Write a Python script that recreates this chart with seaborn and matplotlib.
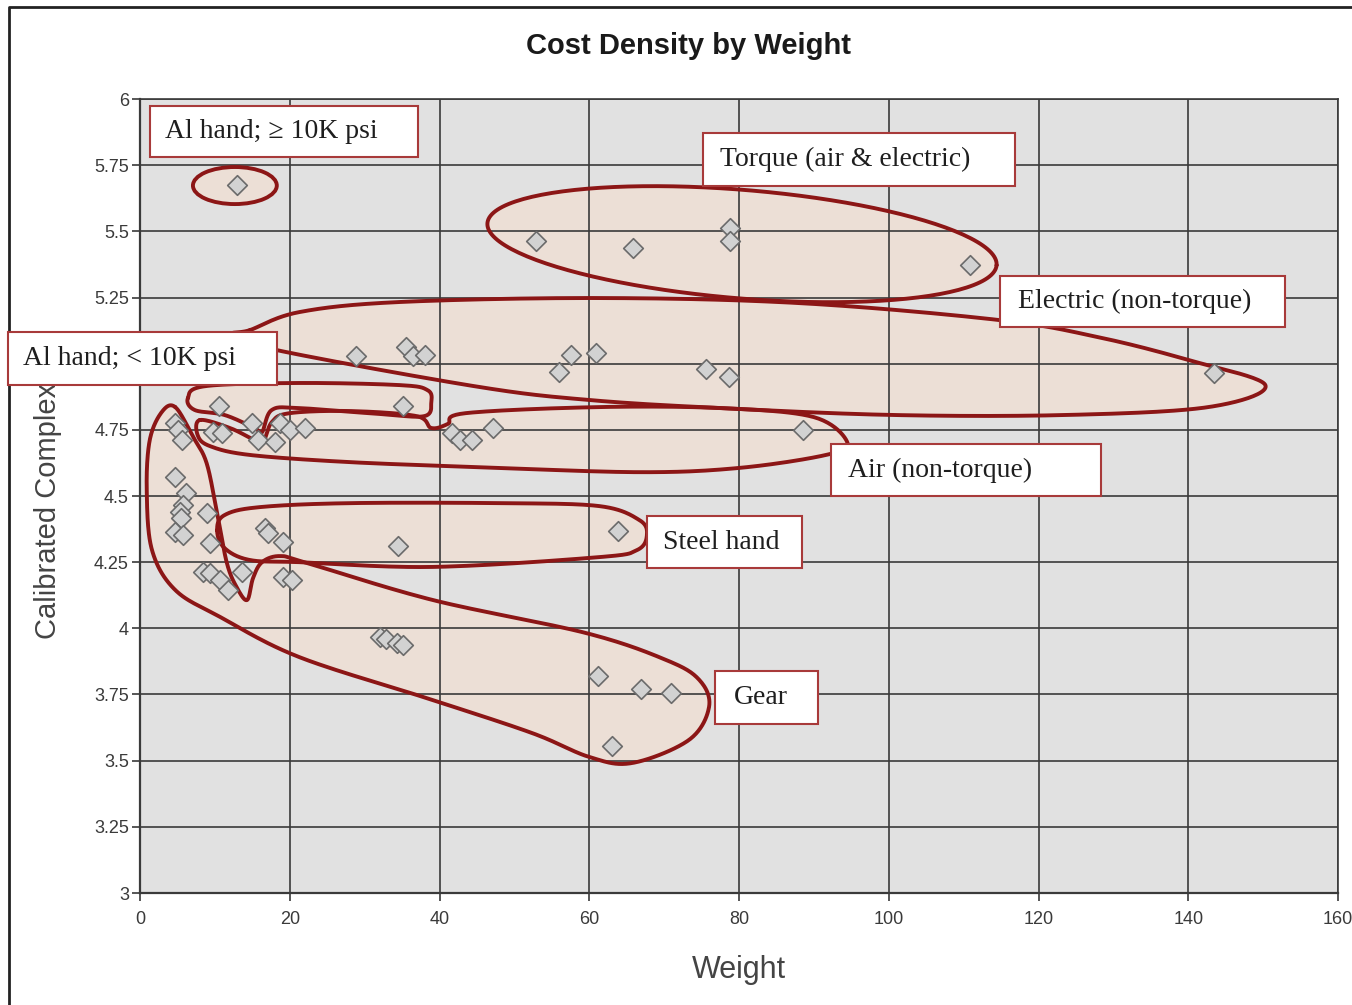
import numpy as np
import pandas as pd
import seaborn as sns
import matplotlib.pyplot as plt
from matplotlib.patches import Ellipse, Rectangle
from matplotlib.lines import Line2D

# weight vs calibrated complexity, grouped by the loop each tool sits in
al_hi_w = [12.9]
al_hi_c = [5.675]
torque_w = [52.9, 65.9, 78.8, 78.8, 110.8]
torque_c = [5.463, 5.437, 5.512, 5.463, 5.372]
electric_w = [28.9, 35.5, 36.5, 38.0, 56.0, 57.6, 60.9, 75.6, 78.7, 143.5]
electric_c = [5.029, 5.063, 5.029, 5.032, 4.968, 5.032, 5.040, 4.980, 4.950, 4.964]
al_lo_w = [10.5, 35.1]
al_lo_c = [4.840, 4.840]
air_w = [4.7, 5.1, 5.6, 9.8, 10.9, 14.9, 15.7, 18.0, 18.7, 20.0, 22.0,
         41.7, 42.7, 44.4, 47.2, 88.5]
air_c = [4.776, 4.749, 4.711, 4.742, 4.738, 4.776, 4.712, 4.704, 4.776, 4.749, 4.757,
         4.738, 4.711, 4.711, 4.757, 4.749]
steel_w = [16.7, 17.1, 19.1, 34.5, 63.9]
steel_c = [4.379, 4.360, 4.326, 4.311, 4.368]
gear_w = [4.7, 6.2, 5.8, 5.3, 5.5, 8.9, 4.7, 5.8, 9.3,
          8.4, 9.3, 10.7, 11.7, 13.6, 19.1, 20.3,
          32.0, 32.8, 34.3, 35.1, 61.2, 66.9, 70.9, 63.1]
gear_c = [4.572, 4.511, 4.466, 4.440, 4.417, 4.436, 4.364, 4.352, 4.322,
          4.213, 4.209, 4.183, 4.145, 4.213, 4.194, 4.183,
          3.967, 3.959, 3.944, 3.937, 3.820, 3.771, 3.756, 3.555]

x_ticks = [0, 20, 40, 60, 80, 100, 120, 140, 160]
y_ticks = [3, 3.25, 3.5, 3.75, 4, 4.25, 4.5, 4.75, 5, 5.25, 5.5, 5.75, 6]
y_tick_labels = ["3", "3.25", "3.5", "3.75", "4", "4.25", "4.5", "4.75",
                 "5", "5.25", "5.5", "5.75", "6"]

# hand-drawn loops around the groups (weight, complexity outline points)
torque_tips = [(46.4, 5.531), (114.4, 5.372)]
torque_halfwidth = 0.205
electric_loop = [(14.7, 5.127), (21.3, 5.195), (34.7, 5.233), (61.3, 5.248), (88, 5.229),
                 (114.7, 5.165), (128, 5.100), (140, 5.014), (150.3, 4.919),
                 (142.7, 4.836), (123.6, 4.806), (100.7, 4.806), (77.7, 4.832),
                 (60.3, 4.862), (45.3, 4.912), (18.3, 5.051), (12.5, 5.11)]
al_lo_loop = [(6.4, 4.870), (8.7, 4.915), (21.3, 4.927), (34.7, 4.919), (38.4, 4.900),
              (38.9, 4.855), (38.0, 4.802), (32.0, 4.810), (21.3, 4.832), (17.6, 4.825),
              (16.3, 4.741), (15.3, 4.757), (11.3, 4.806), (7.3, 4.825)]
air_loop = [(8.0, 4.787), (12.0, 4.757), (15.3, 4.711), (16.4, 4.700), (17.6, 4.779),
            (20.0, 4.813), (28.0, 4.821), (36.9, 4.802), (38.9, 4.757), (41.1, 4.772),
            (43.5, 4.813), (61.3, 4.836), (77.7, 4.832), (90.0, 4.798), (94.5, 4.700),
            (91.6, 4.655), (80.0, 4.606), (66.7, 4.590), (45.3, 4.609), (28.0, 4.628),
            (14.7, 4.655), (9.3, 4.689), (7.7, 4.730)]
steel_loop = [(10.3, 4.371), (11.3, 4.428), (16.0, 4.458), (28.0, 4.473), (48.0, 4.473),
              (61.3, 4.462), (66.7, 4.409), (67.7, 4.352), (66.4, 4.296), (61.3, 4.269),
              (39.1, 4.232), (21.3, 4.250), (14.7, 4.258), (11.3, 4.303)]
gear_loop = [(4.7, 4.836), (7.1, 4.723), (8.9, 4.624), (10.3, 4.435), (11.6, 4.247),
             (12.9, 4.156), (14.3, 4.107), (15.1, 4.190), (16.3, 4.250), (18.7, 4.273),
             (22.3, 4.247), (39.1, 4.107), (59.6, 3.982), (70.3, 3.880), (74.7, 3.805),
             (76.0, 3.703), (73.3, 3.578), (65.7, 3.491), (60.0, 3.514), (52.4, 3.604),
             (39.1, 3.729), (21.3, 3.891), (10.7, 4.043), (4.7, 4.145), (1.6, 4.296),
             (0.9, 4.522), (1.3, 4.711), (2.9, 4.817)]

# callout boxes: text, (left, top, right, bottom) in figure pixels, text start
callouts = [
    ("Al hand; \u2265 10K psi", (150, 106, 418, 157), 165),
    ("Torque (air & electric)", (703, 133, 1015, 186), 720),
    ("Electric (non-torque)", (1000, 276, 1285, 327), 1018),
    ("Al hand; < 10K psi", (8, 332, 277, 385), 23),
    ("Air (non-torque)", (831, 444, 1101, 496), 848),
    ("Steel hand", (647, 516, 802, 568), 663),
    ("Gear", (715, 671, 818, 724), 734),
]


def closed_curve(pts, n=24):
    p = np.asarray(pts, float)
    m = len(p)
    t = np.linspace(0, 1, n, endpoint=False)[:, None]
    segs = []
    for i in range(m):
        p0, p1, p2, p3 = p[i - 1], p[i], p[(i + 1) % m], p[(i + 2) % m]
        segs.append(0.5 * (2 * p1 + (-p0 + p2) * t + (2 * p0 - 5 * p1 + 4 * p2 - p3) * t ** 2
                           + (-p0 + 3 * p1 - 3 * p2 + p3) * t ** 3))
    out = np.vstack(segs + [segs[0][:1]])
    return out[:, 0], out[:, 1]


def tilted_ellipse(ax, tips, halfwidth, n=200):
    # ellipse drawn in screen space between two tips, halfwidth given in y data units
    trans = ax.transData
    p1, p2 = trans.transform(tips[0]), trans.transform(tips[1])
    c = (p1 + p2) / 2
    major = (p2 - p1) / 2
    a = np.hypot(*major)
    u = major / a
    v = np.array([-u[1], u[0]])
    b = abs(trans.transform((0, halfwidth))[1] - trans.transform((0, 0))[1])
    th = np.linspace(0, 2 * np.pi, n)
    pts = c + np.outer(a * np.cos(th), u) + np.outer(b * np.sin(th), v)
    d = trans.inverted().transform(pts)
    return d[:, 0], d[:, 1]


groups = [("Al hand high", al_hi_w, al_hi_c), ("Torque", torque_w, torque_c),
          ("Electric", electric_w, electric_c), ("Al hand low", al_lo_w, al_lo_c),
          ("Air", air_w, air_c), ("Steel hand", steel_w, steel_c), ("Gear", gear_w, gear_c)]
df = pd.concat([pd.DataFrame({"Weight": w, "Complexity": c, "Group": g}) for g, w, c in groups],
               ignore_index=True)

sns.set_theme(style="whitegrid", rc={
    "axes.facecolor": "#e1e1e1",
    "grid.color": "#3a3a3a",
    "grid.linewidth": 1.2,
    "axes.edgecolor": "#3a3a3a",
    "axes.axisbelow": True,
})
plt.rcParams["font.family"] = ["Liberation Sans", "DejaVu Sans"]

W, H = 1352, 1005
fig = plt.figure(figsize=(W / 100, H / 100), dpi=100)
ax = fig.add_axes([140 / W, 1 - 893 / H, 1198 / W, 794 / H])
ax.set_xlim(0, 160)
ax.set_ylim(3, 6)

loop_face = "#ecdfd6"
loop_edge = "#8c1616"
outlines = [closed_curve(gear_loop), closed_curve(electric_loop),
            tilted_ellipse(ax, torque_tips, torque_halfwidth),
            closed_curve(steel_loop), closed_curve(air_loop), closed_curve(al_lo_loop)]
for lx, ly in outlines:
    ax.fill(lx, ly, color=loop_face, lw=0, zorder=0.3)
    ax.plot(lx, ly, color=loop_edge, lw=2.8, zorder=2, solid_capstyle="round")
ax.add_patch(Ellipse((12.67, 5.673), 11.2, 0.14, facecolor=loop_face, edgecolor="none", zorder=0.3))
ax.add_patch(Ellipse((12.67, 5.673), 11.2, 0.14, facecolor="none", edgecolor=loop_edge, lw=2.8, zorder=2))

sns.scatterplot(data=df, x="Weight", y="Complexity", marker="D", s=100,
                color="#d2d2d2", edgecolor="#6b6b6b", linewidth=1.2, zorder=3, ax=ax, legend=False)

ax.set_xlim(0, 160)
ax.set_ylim(3, 6)
ax.set_xticks(x_ticks)
ax.set_xticklabels([str(v) for v in x_ticks])
ax.set_yticks(y_ticks)
ax.set_yticklabels(y_tick_labels)
ax.tick_params(axis="both", which="major", length=6, width=1.2, color="#3a3a3a",
               labelsize=13, labelcolor="#3a3a3a")
ax.tick_params(axis="x", pad=7)
ax.tick_params(axis="y", pad=2)
ax.tick_params(left=True, bottom=True)
for side in ["top", "right"]:
    ax.spines[side].set_linewidth(1.2)
for side in ["left", "bottom"]:
    ax.spines[side].set_linewidth(1.6)

ax.set_xlabel("Weight", fontsize=22, color="#444444", va="center")
ax.xaxis.set_label_coords(0.5, (893 - 970) / 794)
ax.set_ylabel("Calibrated Complexity", fontsize=21, color="#444444", va="center")
ax.yaxis.set_label_coords((48 - 140) / 1198, 0.5)

fig.text(688 / W, 1 - 46 / H, "Cost Density by Weight", ha="center", va="center",
         fontsize=21, fontweight="bold", color="#1a1a1a")

for label, (l, t, r, b), tx in callouts:
    fig.add_artist(Rectangle((l / W, 1 - b / H), (r - l) / W, (b - t) / H,
                             transform=fig.transFigure, facecolor="white",
                             edgecolor="#a83a3a", lw=1.5, zorder=4))
    fig.text(tx / W, 1 - (t + b) / 2 / H, label, ha="left", va="center", fontsize=20,
             family=["Liberation Serif", "DejaVu Serif"], color="#1e1e1e", zorder=5)

# chart border (left and top edges visible in the crop)
fig.add_artist(Line2D([9 / W, 9 / W, 1], [0, 1 - 7 / H, 1 - 7 / H],
                      transform=fig.transFigure, color="#222222", lw=2))

fig.savefig("out.png", dpi=100)
